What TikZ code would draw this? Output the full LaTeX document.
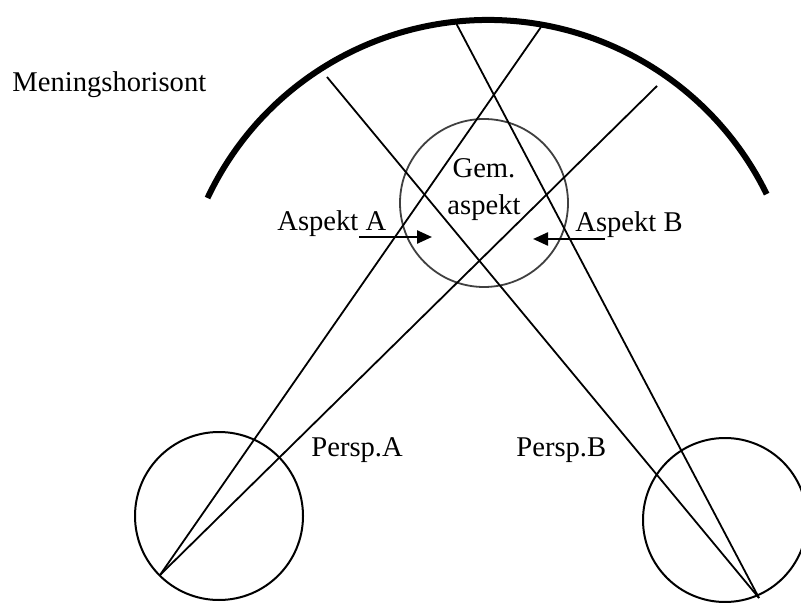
\documentclass[tikz,border=0pt]{standalone}
\usepackage{fontspec}
\setmainfont{Liberation Serif}
\usetikzlibrary{arrows.meta, positioning, calc}
\usepackage{xcolor}
\definecolor{ringgrey}{HTML}{404040}
\tikzset{
  horizon/.style={line width=3pt, line cap=butt},
  sight/.style={line width=0.9pt, draw=black},
  eyering/.style={circle, draw=black, line width=1pt, inner sep=0},
  commonring/.style={circle, draw=ringgrey, line width=0.9pt, inner sep=0,
                     minimum size=84pt},
  lbl/.style={font=\fontsize{14.3}{18.5}\selectfont, inner sep=0, anchor=base west},
  aspectarrow/.style={-{Triangle[length=7.5pt,width=6.5pt]}, line width=1.2pt},
}

\begin{document}
\begin{tikzpicture}[x=0.5pt, y=-0.5pt]
  \useasboundingbox (0,0) rectangle (801,603);

  % horizon of meaning
  \coordinate (hcentre) at (488,330);
  \draw[horizon] ($(hcentre)+(154.8:155pt)$) arc[start angle=154.8, end angle=26, radius=155pt];
  \node[lbl] (horizonlbl) at (12,92) {Meningshorisont};

  % the two perspectives
  \node[eyering, minimum size=84pt] (eyeA) at (219,516) {};
  \node[eyering, minimum size=82pt] (eyeB) at (725,520) {};
  \coordinate (apexA) at (160,575);
  \coordinate (apexB) at (759,598);

  % where the lines of sight end
  \coordinate (hA1) at (541,27);
  \coordinate (hA2) at (657,86);
  \coordinate (hB1) at (456,23);
  \coordinate (hB2) at (327,77);

  \node[commonring] (common) at (484,203) {};
  \node[lbl, anchor=center, align=center] (commonlbl) at (484,190) {Gem.\\aspekt};

  \draw[sight] (apexA) -- (hA1);
  \draw[sight] (apexA) -- (hA2);
  \draw[sight] (apexB) -- (hB1);
  \draw[sight] (apexB) -- (hB2);

  % aspects seen from each side
  \node[lbl] (aspA) at (277,231) {Aspekt A};
  \node[lbl] (aspB) at (575,232) {Aspekt B};
  \coordinate (aspAtail) at (359,237);
  \coordinate (aspAtip) at (432,237);
  \coordinate (aspBtail) at (605,239);
  \coordinate (aspBtip) at (533,239);
  \draw[aspectarrow] (aspAtail) -- (aspAtip);
  \draw[aspectarrow] (aspBtail) -- (aspBtip);

  \node[lbl] (perspA) at (311,456) {Persp.A};
  \node[lbl] (perspB) at (516,456) {Persp.B};
\end{tikzpicture}
\end{document}
